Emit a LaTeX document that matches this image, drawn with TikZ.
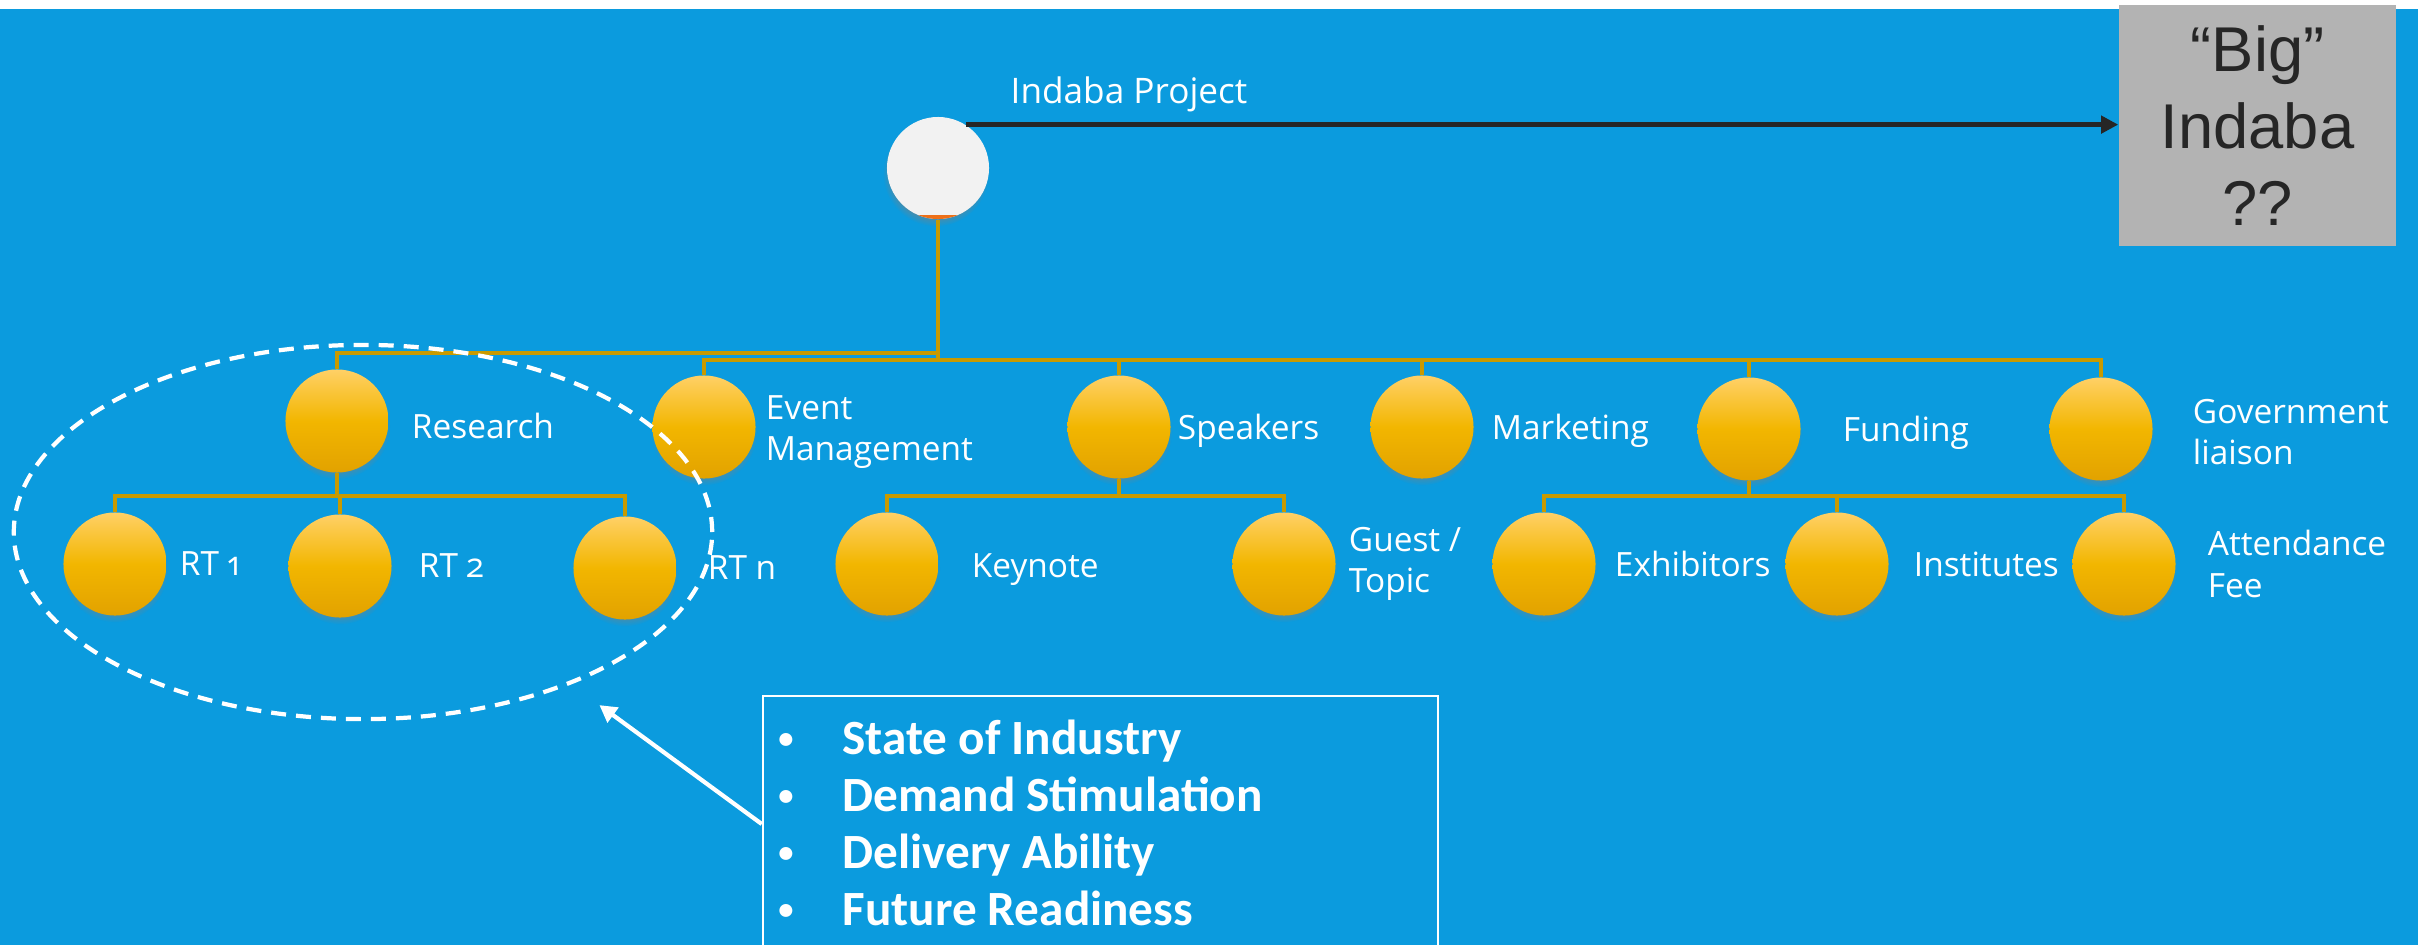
\documentclass[tikz,border=0pt]{standalone}
\usepackage{fontspec}
\usepackage{tikz}
\usetikzlibrary{shapes.geometric, arrows.meta, positioning, shadows}
\newfontfamily\lblfont{Open Sans}
\newfontfamily\bigfont{Liberation Sans}
\newfontfamily\listfont{Carlito}
\definecolor{bgblue}{RGB}{11,155,222}
\definecolor{ballTop}{RGB}{255,208,102}
\definecolor{ballMid}{RGB}{242,182,0}
\definecolor{ballBot}{RGB}{226,162,0}
\definecolor{linkgold}{RGB}{200,154,0}
\definecolor{rootgray}{RGB}{242,242,242}
\definecolor{bandorange}{RGB}{238,112,24}
\definecolor{boxgray}{RGB}{179,179,179}
\definecolor{darktext}{RGB}{38,38,38}
\tikzstyle{ball} = [circle, minimum size=1.03cm, inner sep=0pt, top color=ballTop, bottom color=ballBot, middle color=ballMid, circular drop shadow={shadow xshift=0cm, shadow yshift=-0.05cm, shadow scale=1.03, opacity=0.45}]
\tikzstyle{rootball} = [circle, minimum size=1.02cm, inner sep=0pt, fill=rootgray, circular drop shadow={shadow xshift=-0.02cm, shadow yshift=-0.05cm, shadow scale=1.04, opacity=0.5}]
\tikzstyle{lbl} = [text=white, align=left, inner sep=0pt, font=\lblfont\fontsize{9.5}{11.7}\selectfont]
\tikzstyle{bigbox} = [rectangle, fill=boxgray, minimum width=2.77cm, minimum height=2.41cm, text=darktext, align=center, font=\bigfont\fontsize{18}{21.9}\selectfont]
\tikzstyle{listbox} = [rectangle, draw=white, line width=0.6pt, minimum width=6.75cm, minimum height=2.56cm]
\tikzstyle{items} = [text=white, align=left, inner sep=0pt, font=\listfont\bfseries\fontsize{14}{16.2}\selectfont]
\tikzstyle{conn} = [linkgold, line width=0.9pt]
\tikzstyle{arrow} = [darktext, line width=1.4pt, ->, >={Triangle[length=0.17cm, width=0.17cm]}]
\tikzstyle{warrow} = [white, line width=1.2pt, ->, >={Triangle[length=0.17cm, width=0.18cm]}, shorten >=0.35cm]
\tikzstyle{group} = [ellipse, draw=white, line width=1.2pt, dash pattern=on 0.15cm off 0.1cm, minimum width=6.98cm, minimum height=3.74cm]
\newcommand{\itm}[1]{\makebox[0.64cm][l]{\raisebox{0.12em}{\scalebox{0.62}{\textbullet}}}#1}

\begin{document}
\begin{tikzpicture}[x=0.01cm, y=-0.01cm]

		\fill[white] (0,0) rectangle (2418,945);
		\fill[bgblue] (0,9) rectangle (2418,945);
		\useasboundingbox (0,0) rectangle (2418,945);

		% project and the big event
		\node (proj) [rootball] at (938,168) {};
		\begin{scope}
		\clip (proj) circle[radius=0.51cm];
		\fill[bandorange] ([xshift=-0.3cm]proj.south) rectangle ([xshift=0.3cm, yshift=0.045cm]proj.south);
		\end{scope}
		\node (tproj) [lbl, anchor=base west, font=\lblfont\fontsize{10}{12}\selectfont] at (1010,103) {Indaba Project};
		\node (big) [bigbox] at (2257.5,125.5) {“Big”\\Indaba\\??};

		% first level
		\node (res) [ball] at (337,421) {};
		\node (evt) [ball] at (704,427) {};
		\node (spk) [ball] at (1119,427) {};
		\node (mkt) [ball] at (1422,427) {};
		\node (fund) [ball] at (1749,429) {};
		\node (gov) [ball] at (2101,429) {};

		% second level
		\node (rt1) [ball] at (115,564) {};
		\node (rt2) [ball] at (340,566) {};
		\node (rtn) [ball] at (625,568) {};
		\node (key) [ball] at (887,564) {};
		\node (guest) [ball] at (1284,564) {};
		\node (exh) [ball] at (1544,564) {};
		\node (inst) [ball] at (1837,564) {};
		\node (fee) [ball] at (2124,564) {};

		% labels
		\node (tres) [lbl, right=0.22cm of res, yshift=-0.05cm] {Research};
		\node (tevt) [lbl, right=0.09cm of evt, yshift=-0.05cm] {Event\\Management};
		\node (tspk) [lbl, right=0.06cm of spk, yshift=-0.04cm] {Speakers};
		\node (tmkt) [lbl, right=0.17cm of mkt, yshift=-0.04cm] {Marketing};
		\node (tfund) [lbl, right=0.41cm of fund, yshift=-0.04cm] {Funding};
		\node (tgov) [lbl, right=0.39cm of gov, yshift=-0.03cm] {Government\\liaison};
		\node (trt1) [lbl, right=0.12cm of rt1] {RT \addfontfeatures{Numbers=OldStyle}1};
		\node (trt2) [lbl, right=0.26cm of rt2] {RT \addfontfeatures{Numbers=OldStyle}2};
		\node (trtn) [lbl, right=0.30cm of rtn] {RT n};
		\node (tkey) [lbl, right=0.32cm of key, yshift=-0.06cm] {Keynote};
		\node (tguest) [lbl, right=0.12cm of guest] {Guest /\\Topic};
		\node (texh) [lbl, right=0.18cm of exh] {Exhibitors};
		\node (tinst) [lbl, right=0.24cm of inst] {Institutes};
		\node (tfee) [lbl, right=0.31cm of fee] {Attendance\\Fee};

		% tree links
		\coordinate (j0) at (938,360);
		\coordinate (j0a) at (938,353);
		\coordinate (j1) at (337,496);
		\coordinate (j2) at (1119,496);
		\coordinate (j3) at (1749,496);
		\draw [conn] (proj) -- (j0);
		\draw [conn] (j0a) -| (res.north);
		\draw [conn] (j0) -| (evt.north);
		\draw [conn] (j0) -| (spk.north);
		\draw [conn] (j0) -| (mkt.north);
		\draw [conn] (j0) -| (fund.north);
		\draw [conn] (j0) -| (gov.north);
		\draw [conn] (res) -- (j1);
		\draw [conn] (j1) -| (rt1.north);
		\draw [conn] (j1) -| (rt2.north);
		\draw [conn] (j1) -| (rtn.north);
		\draw [conn] (spk) -- (j2);
		\draw [conn] (j2) -| (key.north);
		\draw [conn] (j2) -| (guest.north);
		\draw [conn] (fund) -- (j3);
		\draw [conn] (j3) -| (exh.north);
		\draw [conn] (j3) -| (inst.north);
		\draw [conn] (j3) -| (fee.north);

		\draw [arrow] (proj.57) -- (proj.57 -| big.west);

		% research themes
		\node (grp) [group] at (363,532) {};
		\node (box) [listbox] at (1100.5,824) {};
		\node (list) [items, below right=0.24cm and 0.16cm of box.north west] {\itm{State of Industry}\\\itm{Demand Stimulation}\\\itm{Delivery Ability}\\\itm{Future Readiness}};
		\draw [warrow] (box.west) -- (grp);

\end{tikzpicture}
\end{document}
